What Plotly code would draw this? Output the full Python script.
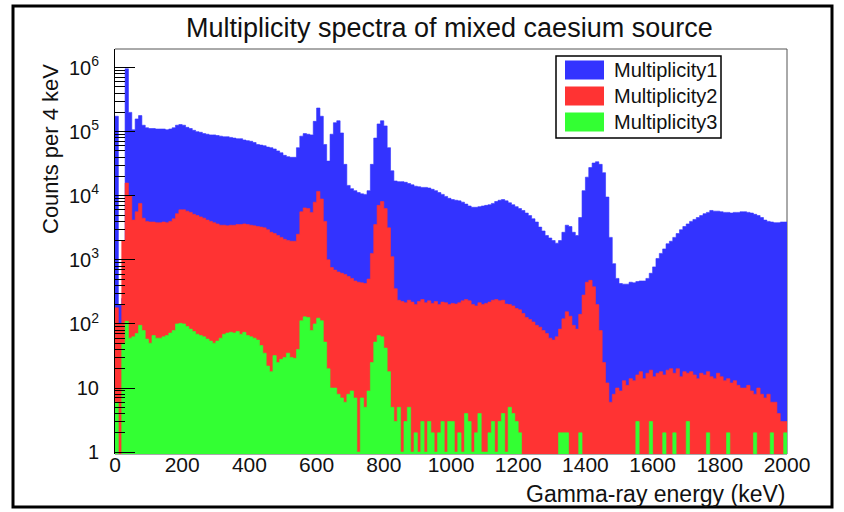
import plotly.graph_objects as go

# Gamma-ray spectra rebinned to 10 keV bins, 0-2000 keV
BIN_KEV = 10
bin_edges_keV = [BIN_KEV * i for i in range(201)]

mult1 = [
    174000, 200, 250, 955000, 200000, 107000, 158000, 178000, 126000, 115000,
    112000, 112000, 110000, 110000, 110000, 107000, 110000, 115000, 126000, 129000,
    126000, 117000, 112000, 105000, 100000, 97700, 93300, 91200, 89100, 89100,
    87100, 85100, 83200, 83200, 81300, 79400, 77600, 77600, 74100, 72400,
    70800, 67600, 63100, 61700, 60300, 57500, 56200, 53700, 50100, 46800,
    42700, 40700, 39800, 39800, 56200, 85100, 93300, 91200, 89100, 145000,
    234000, 174000, 63100, 34700, 91200, 138000, 148000, 95500, 30900, 14500,
    12900, 12000, 11200, 10700, 10500, 12000, 30900, 79400, 132000, 148000,
    123000, 56200, 24500, 17000, 16600, 16600, 16200, 15500, 14800, 14100,
    13800, 13500, 13500, 13200, 12600, 12000, 11200, 10500, 9770, 9120,
    8710, 8510, 8320, 7940, 7410, 6920, 6610, 6610, 6760, 6920,
    7080, 7240, 7590, 8130, 8510, 8710, 8320, 7760, 7240, 6760,
    6310, 5890, 5370, 4900, 4370, 3890, 3240, 2820, 2400, 2190,
    2000, 1820, 2000, 2690, 3470, 3310, 2690, 2400, 4570, 12000,
    19500, 27500, 32400, 33900, 30900, 22900, 9550, 2240, 871, 513,
    427, 417, 417, 447, 437, 457, 468, 468, 513, 617,
    776, 1050, 1260, 1480, 1780, 1950, 2240, 2570, 2950, 3310,
    3630, 3980, 4270, 4570, 4900, 5250, 5500, 5890, 5750, 5750,
    5620, 5500, 5500, 5370, 5500, 5500, 5620, 5620, 5500, 5370,
    5130, 4900, 4570, 4170, 3980, 3890, 3800, 3800, 3890, 3890,
]

mult2 = [
    178, 100, 2000, 15800, 10000, 4170, 5620, 7590, 4470, 3980,
    3890, 3890, 3800, 3800, 3890, 3800, 3980, 4370, 5250, 6030,
    6030, 5750, 5500, 5130, 4900, 4680, 4470, 4170, 3980, 3800,
    3630, 3470, 3470, 3390, 3470, 3470, 3550, 3550, 3630, 3550,
    3470, 3390, 3310, 3240, 3160, 2950, 2690, 2570, 2400, 2240,
    2090, 2000, 1950, 1950, 2510, 5620, 6460, 6310, 5500, 7940,
    11700, 8910, 3980, 1000, 759, 692, 646, 617, 589, 550,
    513, 468, 447, 437, 427, 501, 1260, 3550, 7080, 8130,
    6310, 3160, 1120, 355, 234, 224, 214, 234, 219, 200,
    224, 240, 214, 229, 209, 224, 200, 219, 214, 200,
    209, 204, 214, 229, 240, 229, 200, 191, 214, 200,
    209, 219, 234, 240, 229, 234, 204, 200, 191, 174,
    166, 145, 126, 117, 107, 95, 89, 79, 71, 60,
    56, 63, 83, 120, 155, 132, 95, 83, 141, 282,
    447, 479, 380, 200, 79, 25, 12, 6, 8, 10,
    9, 13, 11, 14, 13, 16, 18, 14, 17, 19,
    15, 17, 18, 16, 19, 20, 17, 20, 15, 18,
    17, 18, 16, 14, 17, 16, 18, 15, 14, 17,
    15, 13, 14, 12, 13, 11, 10, 10, 11, 9,
    8, 10, 8, 7, 8, 6, 6, 4, 3, 3,
]

mult3 = [
    6, 0, 50, 110, 60, 63, 71, 95, 79, 58,
    50, 66, 60, 60, 63, 66, 72, 79, 100, 102,
    100, 91, 83, 76, 69, 66, 63, 58, 54, 50,
    54, 60, 69, 72, 74, 72, 76, 69, 74, 66,
    63, 60, 56, 46, 35, 22, 18, 32, 25, 28,
    30, 35, 30, 29, 40, 112, 129, 126, 79, 100,
    123, 112, 52, 20, 10, 10, 8, 7, 6, 8,
    9, 7, 1, 7, 5, 9, 25, 52, 66, 63,
    42, 18, 5, 3, 5, 1, 3, 5, 1, 2,
    1, 3, 1, 3, 2, 1, 2, 3, 1, 3,
    3, 1, 2, 1, 4, 3, 1, 2, 4, 1,
    1, 2, 3, 1, 3, 4, 1, 5, 4, 3,
    2, 0, 0, 0, 0, 0, 0, 0, 0, 0,
    0, 0, 2, 2, 2, 0, 0, 0, 2, 0,
    0, 0, 0, 0, 0, 0, 0, 0, 0, 0,
    0, 0, 0, 0, 0, 3, 0, 0, 0, 3,
    0, 0, 0, 2, 0, 0, 2, 0, 0, 0,
    3, 0, 0, 0, 0, 0, 2, 0, 0, 0,
    0, 0, 2, 0, 0, 0, 0, 0, 0, 0,
    2, 0, 0, 0, 0, 2, 0, 0, 0, 2,
]

series_names = ["Multiplicity1", "Multiplicity2", "Multiplicity3"]
series_colors = ["#3333ff", "#ff3333", "#33ff33"]

x_tickvals = [0, 200, 400, 600, 800, 1000, 1200, 1400, 1600, 1800, 2000]
y_tickvals = [1, 10, 100, 1000, 10000, 100000, 1000000]
y_ticktext = ["1", "10", "10<sup>2</sup>", "10<sup>3</sup>",
              "10<sup>4</sup>", "10<sup>5</sup>", "10<sup>6</sup>"]
y_minor = [k * 10 ** d for d in range(0, 7) for k in range(2, 10)]

# empty bins are drawn down to this level, well below the visible axis range
EMPTY_FLOOR = 1e-2

# page geometry (pixels)
FIG_W, FIG_H = 844, 512
L, R, T, B = 115, 787, 49, 454
PW, PH = R - L, B - T


def px(x):
    return (x - L) / PW


def py(y):
    return (B - y) / PH


FONT = "Liberation Sans, Arial, sans-serif"
TXT = "#111111"


def step_outline(values):
    """Closed histogram outline (filled step polygon) from bin contents."""
    ys = [v if v > 0 else EMPTY_FLOOR for v in values]
    xs = [bin_edges_keV[0]] + bin_edges_keV + [bin_edges_keV[-1]]
    ys = [EMPTY_FLOOR] + ys + [ys[-1], EMPTY_FLOOR]
    return xs, ys


fig = go.Figure()
for name, vals, col in zip(series_names, [mult1, mult2, mult3], series_colors):
    xs, ys = step_outline(vals)
    fig.add_trace(go.Scatter(
        x=xs, y=ys, name=name, mode="lines",
        line=dict(shape="hv", width=0.6, color=col),
        fill="toself", fillcolor=col,
        showlegend=False, hoverinfo="skip",
    ))

fig.update_layout(
    width=FIG_W, height=FIG_H,
    margin=dict(l=L, r=FIG_W - R, t=T, b=FIG_H - B),
    paper_bgcolor="white", plot_bgcolor="white",
    font=dict(family=FONT, color=TXT),
    showlegend=False,
)

fig.update_xaxes(
    range=[0, 2000], tickvals=x_tickvals, ticks="",
    tickfont=dict(size=21, family=FONT, color=TXT),
    showgrid=False, zeroline=False, showline=False,
    anchor="free", position=py(450),
    layer="below traces",
)

fig.update_yaxes(
    type="log", range=[-0.03, 6.29],
    tickvals=y_tickvals, ticktext=y_ticktext,
    ticks="inside", ticklen=20, tickwidth=1, tickcolor="black",
    minor=dict(tickvals=y_minor, ticks="inside", ticklen=10,
               tickwidth=1, tickcolor="black"),
    tickfont=dict(size=20, family=FONT, color=TXT),
    ticklabelstandoff=11,
    showgrid=False, zeroline=False,
    showline=True, linecolor="black", linewidth=1, mirror=False,
    layer="above traces",
)

frame_line = dict(color="#555555", width=1)
shapes = [
    # top, right and bottom edges of the frame
    dict(type="line", xref="paper", yref="paper", x0=0, x1=1, y0=1, y1=1,
         line=frame_line, layer="below"),
    dict(type="line", xref="paper", yref="paper", x0=1, x1=1, y0=0, y1=1,
         line=frame_line, layer="below"),
    dict(type="line", xref="paper", yref="paper", x0=0, x1=1, y0=0, y1=0,
         line=frame_line, layer="below"),
    # outer border of the canvas
    dict(type="rect", xref="paper", yref="paper",
         x0=px(13), x1=px(832), y0=py(507), y1=py(6),
         line=dict(color="black", width=3), fillcolor="rgba(0,0,0,0)"),
    # legend box
    dict(type="rect", xref="paper", yref="paper",
         x0=px(556), x1=px(721), y0=py(138), y1=py(56),
         line=dict(color="black", width=1.5), fillcolor="white"),
]

annotations = [
    dict(text="Multiplicity spectra of mixed caesium source",
         xref="paper", yref="paper", x=px(449), y=py(28),
         xanchor="center", yanchor="middle", showarrow=False,
         font=dict(size=27, family=FONT, color=TXT)),
    dict(text="Gamma-ray energy (keV)",
         xref="paper", yref="paper", x=1, y=py(494),
         xanchor="right", yanchor="middle", showarrow=False,
         font=dict(size=23, family=FONT, color=TXT)),
    dict(text="Counts per 4 keV", textangle=-90,
         xref="paper", yref="paper", x=px(50), y=py(62),
         xanchor="center", yanchor="top", showarrow=False,
         font=dict(size=22, family=FONT, color=TXT)),
]

legend_rows = [70, 96, 122]
for name, col, yc in zip(series_names, series_colors, legend_rows):
    shapes.append(dict(type="rect", xref="paper", yref="paper",
                       x0=px(565), x1=px(604), y0=py(yc + 9.5), y1=py(yc - 9.5),
                       line=dict(width=0), fillcolor=col))
    annotations.append(dict(text=name, xref="paper", yref="paper",
                            x=px(612), y=py(yc), xanchor="left", yanchor="middle",
                            showarrow=False,
                            font=dict(size=20, family=FONT, color=TXT)))

fig.update_layout(shapes=shapes, annotations=annotations)

fig.write_html("out.html")
